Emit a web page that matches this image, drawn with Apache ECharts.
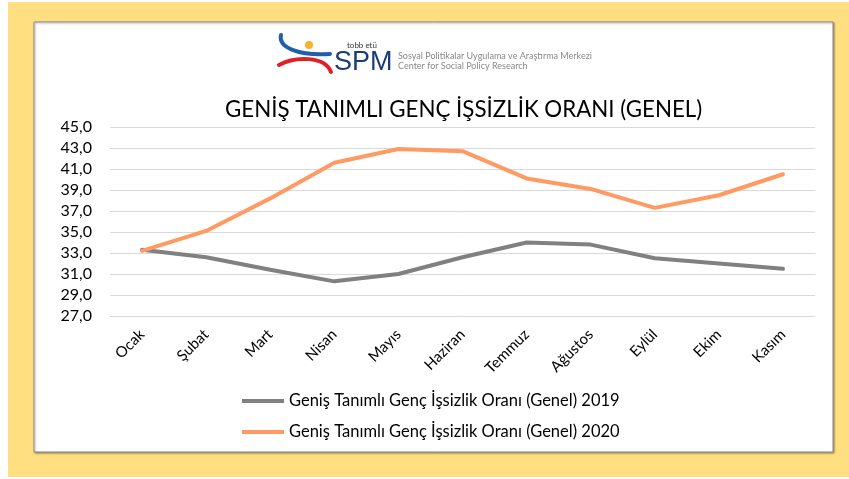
<!DOCTYPE html>
<html>
<head>
<meta charset="utf-8">
<script src="https://cdn.jsdelivr.net/npm/echarts@6/dist/echarts.min.js"></script>
<style>
  html, body { margin: 0; padding: 0; background: #fff; }
  #chart { width: 849px; height: 479px; }
</style>
</head>
<body>
<div id="chart"></div>
<script>
// aylar
const months = ['Ocak', 'Şubat', 'Mart', 'Nisan', 'Mayıs', 'Haziran', 'Temmuz', 'Ağustos', 'Eylül', 'Ekim', 'Kasım']

// oranlar (%)
const rate2019 = [33.3, 32.6, 31.4, 30.3, 31.0, 32.6, 34.0, 33.8, 32.5, 32.0, 31.5]
const rate2020 = [33.2, 35.1, 38.2, 41.6, 42.9, 42.7, 40.1, 39.1, 37.3, 38.5, 40.5]

const name2019 = 'Geniş Tanımlı Genç İşsizlik Oranı (Genel) 2019'
const name2020 = 'Geniş Tanımlı Genç İşsizlik Oranı (Genel) 2020'

const font = 'Lato, "Open Sans", sans-serif'

const chart = echarts.init(document.getElementById('chart'))

const option = {
  backgroundColor: '#fff',
  animation: false,
  title: {
    text: 'GENİŞ TANIMLI GENÇ İŞSİZLİK ORANI (GENEL)',
    left: 220,
    top: 94,
    textStyle: { fontFamily: font, fontSize: 22.3, fontWeight: 'normal', color: '#000' }
  },
  legend: {
    orient: 'vertical',
    left: 237,
    top: 386,
    icon: 'rect',
    itemWidth: 42,
    itemHeight: 4,
    itemGap: 11,
    textStyle: { fontFamily: font, fontSize: 16.5, color: '#000', lineHeight: 20 },
    data: [name2019, name2020]
  },
  grid: { left: 110, right: 34, top: 127, bottom: 163 },
  xAxis: {
    type: 'category',
    data: months,
    boundaryGap: true,
    axisLine: { show: false },
    axisTick: { show: false },
    axisLabel: { rotate: 45, margin: 16, fontFamily: font, fontSize: 15, color: '#000', interval: 0 }
  },
  yAxis: {
    type: 'value',
    min: 27,
    max: 45,
    interval: 2,
    axisLine: { show: false },
    axisTick: { show: false },
    axisLabel: {
      margin: 18, fontFamily: font, fontSize: 16, color: '#000',
      formatter: v => v.toFixed(1).replace('.', ',')
    },
    splitLine: { lineStyle: { color: '#d9d9d9', width: 1 } }
  },
  graphic: [
    { type: 'rect', z: -10, shape: { x: 8, y: 2, width: 841, height: 475 }, style: { fill: '#FFDF80' } },
    {
      type: 'rect', z: -9, shape: { x: 34, y: 22, width: 799, height: 430 },
      style: { fill: '#fff', stroke: '#8a8a8a', lineWidth: 1, shadowBlur: 2, shadowOffsetX: 1, shadowOffsetY: 1, shadowColor: 'rgba(0,0,0,0.35)' }
    },
    // logo
    { type: 'bezierCurve', shape: { x1: 281, y1: 35, x2: 330, y2: 54, cpx1: 278, cpy1: 48, cpx2: 300, cpy2: 56 }, style: { stroke: '#1f5fae', lineWidth: 4, fill: null, lineCap: 'round' } },
    { type: 'circle', shape: { cx: 309, cy: 45, r: 4 }, style: { fill: '#F7B32B' } },
    { type: 'bezierCurve', shape: { x1: 279, y1: 65, x2: 331, y2: 72, cpx1: 295, cpy1: 56, cpx2: 325, cpy2: 56 }, style: { stroke: '#e02027', lineWidth: 4, fill: null, lineCap: 'round' } },
    { type: 'text', x: 347, y: 41, style: { text: 'tobb etü', fontFamily: font, fontSize: 8, fill: '#333' } },
    { type: 'text', x: 334, y: 49, style: { text: 'SPM', fontFamily: '"Liberation Sans", sans-serif', fontSize: 27, fill: '#1b3c78' } },
    { type: 'text', x: 398, y: 52, style: { text: 'Sosyal Politikalar Uygulama ve Araştırma Merkezi', fontFamily: font, fontSize: 9, fill: '#888' } },
    { type: 'text', x: 398, y: 62, style: { text: 'Center for Social Policy Research', fontFamily: font, fontSize: 9, fill: '#888' } }
  ],
  series: [
    {
      name: name2019,
      type: 'line',
      data: rate2019,
      symbol: 'none',
      itemStyle: { color: '#808080' },
      lineStyle: { color: '#808080', width: 4, cap: 'round', join: 'round' }
    },
    {
      name: name2020,
      type: 'line',
      data: rate2020,
      symbol: 'none',
      itemStyle: { color: '#FF9A62' },
      lineStyle: { color: '#FF9A62', width: 4, cap: 'round', join: 'round' }
    }
  ]
}

chart.setOption(option)
</script>
</body>
</html>
